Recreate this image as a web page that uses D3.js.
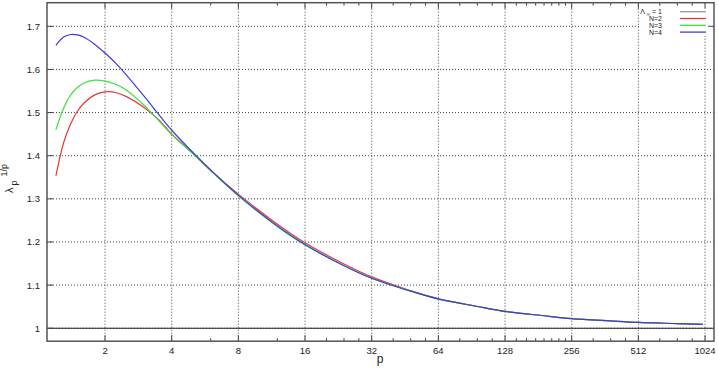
<!DOCTYPE html>
<html lang="en">
<head>
<meta charset="UTF-8">
<title>lambda_p^(1/p)</title>
<script src="https://d3js.org/d3.v7.min.js"></script>
<style>
  body { margin: 0; background: #fff; }
  svg { font-family: "Liberation Sans", Arial, sans-serif; }
  .grid line { stroke: #444; stroke-width: 1; stroke-dasharray: 1,2; }
</style>
</head>
<body>
<svg width="718" height="372"></svg>
<script>
// values
const pValues  = [1.2, 1.3, 1.4, 1.5, 1.6, 1.8, 2, 2.25, 2.5, 3, 3.5, 4, 5, 6, 8, 12, 16, 24, 32, 48, 64, 96, 128, 192, 256, 384, 512, 768, 1000];
const lambdaN2 = [1.353, 1.430, 1.474, 1.503, 1.521, 1.541, 1.548, 1.546, 1.537, 1.512, 1.483, 1.450, 1.405, 1.366, 1.311, 1.241, 1.198, 1.149, 1.119, 1.087, 1.068, 1.0505, 1.039, 1.029, 1.0225, 1.017, 1.0135, 1.0108, 1.009];
const lambdaN3 = [1.460, 1.510, 1.541, 1.558, 1.568, 1.575, 1.573, 1.565, 1.552, 1.517, 1.481, 1.449, 1.404, 1.365, 1.307, 1.236, 1.193, 1.145, 1.116, 1.086, 1.068, 1.0505, 1.039, 1.029, 1.0225, 1.017, 1.0135, 1.0108, 1.009];
const lambdaN4 = [1.656, 1.675, 1.681, 1.680, 1.675, 1.658, 1.638, 1.613, 1.587, 1.538, 1.495, 1.459, 1.407, 1.367, 1.308, 1.237, 1.194, 1.145, 1.116, 1.086, 1.068, 1.0505, 1.039, 1.029, 1.0225, 1.017, 1.0135, 1.0108, 1.009];
const lambdaInf = 1;

const xTicks = [2, 4, 8, 16, 32, 64, 128, 256, 512, 1024];
const xMinorTicks = [6, 12, 20, 24, 28, 40, 48, 56, 80, 96, 112, 144, 160, 176, 192, 208, 224, 240, 320, 384, 448, 640, 768, 896];
const yTicks = [1, 1.1, 1.2, 1.3, 1.4, 1.5, 1.6, 1.7];

const seriesNames  = ['N=2', 'N=3', 'N=4'];
const seriesValues = [lambdaN2, lambdaN3, lambdaN4];
const seriesColors = ['#e23a3a', '#3ee03e', '#3c3cdc'];

const plotLeft = 47, plotRight = 714, plotTop = 2.7, plotBottom = 341.2;

const x = d3.scaleLog().base(2)
    .domain([1.094, 1124])
    .range([plotLeft, plotRight]);

const y = d3.scaleLinear()
    .domain([0.97, 1.7547])
    .range([plotBottom, plotTop]);

const svg = d3.select('svg');

// grid
const grid = svg.append('g').attr('class', 'grid');
grid.selectAll('line.gx')
    .data(xTicks)
    .enter().append('line')
    .attr('x1', d => x(d)).attr('x2', d => x(d))
    .attr('y1', plotTop).attr('y2', plotBottom);
grid.selectAll('line.gy')
    .data(yTicks)
    .enter().append('line')
    .attr('x1', plotLeft).attr('x2', plotRight)
    .attr('y1', d => y(d)).attr('y2', d => y(d));

// ticks (inward, mirrored like gnuplot)
const ticks = svg.append('g').attr('stroke', '#444').attr('stroke-width', 1);
xTicks.forEach(t => {
    ticks.append('line').attr('x1', x(t)).attr('x2', x(t)).attr('y1', plotBottom).attr('y2', plotBottom - 6);
    ticks.append('line').attr('x1', x(t)).attr('x2', x(t)).attr('y1', plotTop).attr('y2', plotTop + 6);
});
xMinorTicks.forEach(t => {
    ticks.append('line').attr('x1', x(t)).attr('x2', x(t)).attr('y1', plotBottom).attr('y2', plotBottom - 3);
    ticks.append('line').attr('x1', x(t)).attr('x2', x(t)).attr('y1', plotTop).attr('y2', plotTop + 3);
});
yTicks.forEach(t => {
    ticks.append('line').attr('x1', plotLeft).attr('x2', plotLeft + 6).attr('y1', y(t)).attr('y2', y(t));
});

// tick labels
svg.append('g').selectAll('text')
    .data(xTicks)
    .enter().append('text')
    .attr('x', d => x(d))
    .attr('y', 354)
    .attr('text-anchor', 'middle')
    .style('font-size', '9.5px')
    .style('fill', '#222')
    .text(d => d);

svg.append('g').selectAll('text')
    .data(yTicks)
    .enter().append('text')
    .attr('x', 40)
    .attr('y', d => y(d) + 3.5)
    .attr('text-anchor', 'end')
    .style('font-size', '9.5px')
    .style('fill', '#222')
    .text(d => d3.format('~g')(d));

// axis titles
svg.append('text')
    .attr('x', 380).attr('y', 363)
    .attr('text-anchor', 'middle')
    .style('font-size', '12px')
    .style('fill', '#222')
    .text('p');

const ylab = svg.append('text')
    .attr('transform', 'translate(13,193) rotate(-90)')
    .style('font-size', '11px')
    .style('fill', '#222');
ylab.append('tspan').text('λ');
ylab.append('tspan').attr('dy', 4).attr('dx', 2).style('font-size', '9px').text('p');
ylab.append('tspan').attr('dy', -10).attr('dx', 4).style('font-size', '9px').text('1/p');

// curves
svg.append('line')
    .attr('x1', plotLeft).attr('x2', plotRight)
    .attr('y1', y(lambdaInf)).attr('y2', y(lambdaInf))
    .attr('stroke', '#222').attr('stroke-width', 1.2);

const line = d3.line()
    .x(d => x(d[0]))
    .y(d => y(d[1]))
    .curve(d3.curveCatmullRom.alpha(0.5));

seriesValues.forEach((vals, i) => {
    svg.append('path')
        .datum(pValues.map((p, j) => [p, vals[j]]))
        .attr('d', line)
        .attr('fill', 'none')
        .attr('stroke', seriesColors[i])
        .attr('stroke-width', 1.2);
});

// key
svg.append('rect')
    .attr('x', 640).attr('y', 6)
    .attr('width', plotRight - 641).attr('height', 30)
    .attr('fill', '#fff');
ticks.raise();
svg.append('line')
    .attr('x1', plotRight - 6).attr('x2', plotRight)
    .attr('y1', y(1.7)).attr('y2', y(1.7))
    .attr('stroke', '#444');

const keyLabels = ['Λ∞ = 1'].concat(seriesNames);
const keyColors = ['#999'].concat(seriesColors);
const key = svg.append('g').style('font-size', '7px').style('fill', '#222');
keyLabels.forEach((lab, i) => {
    const ky = 11.7 + i * 6.8;
    if (i === 0) {
        const t = key.append('text').attr('x', 662).attr('y', ky + 2.5).attr('text-anchor', 'end');
        t.append('tspan').text('Λ');
        t.append('tspan').attr('dy', 2).attr('dx', 1.5).style('font-size', '5px').text('∞');
        t.append('tspan').attr('dy', -2).text('  = 1');
    } else {
        key.append('text').attr('x', 662).attr('y', ky + 2.5).attr('text-anchor', 'end').text(lab);
    }
    key.append('line')
        .attr('x1', 680).attr('x2', 706)
        .attr('y1', ky).attr('y2', ky)
        .attr('stroke', keyColors[i])
        .attr('stroke-width', 1.3);
});

// border
svg.append('rect')
    .attr('x', plotLeft).attr('y', plotTop)
    .attr('width', plotRight - plotLeft).attr('height', plotBottom - plotTop)
    .attr('fill', 'none')
    .attr('stroke', '#555')
    .attr('stroke-width', 1.5);
</script>
</body>
</html>
